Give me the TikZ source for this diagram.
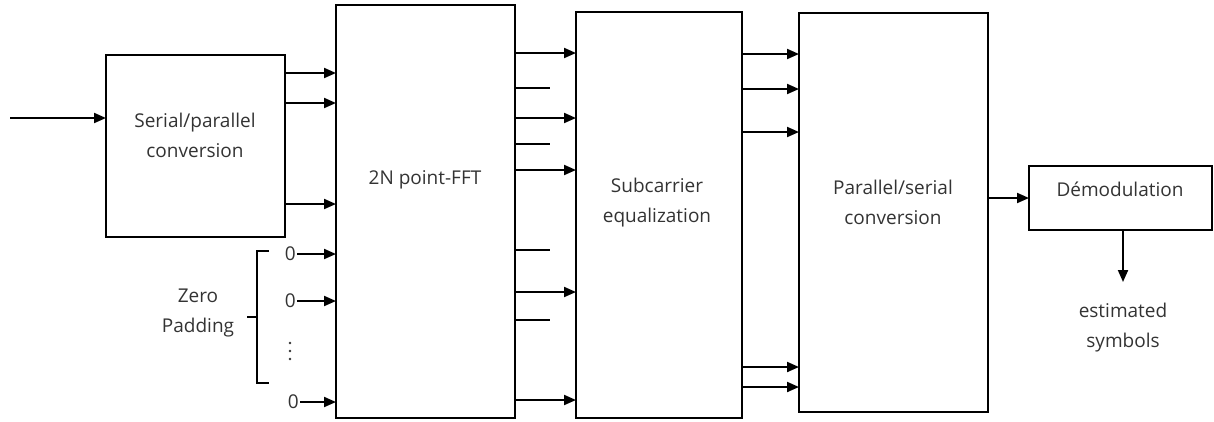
\documentclass[tikz,border=0pt]{standalone}
\usepackage{fontspec}
\setmainfont{Open Sans}
\usetikzlibrary{arrows.meta}
\begin{document}
\begin{tikzpicture}[x=1pt,y=-1pt,
  blk/.style={draw, line width=2pt, inner sep=0pt, outer sep=0pt, anchor=north west},
  lbl/.style={font=\fontsize{19}{30}\selectfont, align=center, text=black!80, inner sep=0pt},
  arr/.style={line width=2pt, -{Triangle[length=12pt,width=10pt]}},
  stub/.style={line width=2pt}]
\useasboundingbox (0,0) rectangle (1214,421);

% processing blocks
\node[blk, minimum width=179pt, minimum height=182pt] (sp)  at (106,55)  {};
\node[blk, minimum width=179pt, minimum height=413pt] (fft) at (336,5)   {};
\node[blk, minimum width=166pt, minimum height=406pt] (sub) at (576,12)  {};
\node[blk, minimum width=189pt, minimum height=399pt] (ps)  at (799,13)  {};
\node[blk, minimum width=183pt, minimum height=64pt]  (dem) at (1029,166) {};

% block captions
\node[lbl] (tsp)  at (195,135) {Serial/parallel\\conversion};
\node[lbl] (tfft) at (425,180) {2N point-FFT};
\node[lbl] (tsub) at (657,203) {Subcarrier\\equalization};
\node[lbl] (tps)  at (893,202) {Parallel/serial\\conversion};
\node[lbl] (tdem) at (1120,189) {Démodulation};
\node[lbl] (tout) at (1123,328) {estimated\\symbols};
\node[lbl] (tzp)  at (198,313) {Zero\\Padding};

% serial input
\coordinate (in) at (10,118);
\draw[arr] (in) -- (sp.west |- in);

% serial/parallel outputs into the FFT
\foreach \y in {73,103,204}
  \draw[arr] (sp.east |- 0,\y) -- (fft.west |- 0,\y);

% zero padding inputs
\node[lbl, anchor=east] (z1) at (296,254) {0};
\node[lbl, anchor=east] (z2) at (296,301) {0};
\node[lbl, anchor=east] (z3) at (299,402) {0};
\foreach \y in {343,351,359}
  \fill[black!80] (290,\y) circle (1.3pt);
\foreach \z in {z1,z2,z3}
  \draw[arr] ([xshift=1pt]\z.east) -- (fft.west |- \z.east);

% bracket grouping the zero inputs
\coordinate (bt) at (269,251);
\coordinate (bb) at (269,383);
\coordinate (bm) at (247,317);
\draw[line width=1.5pt] (bt) -- (257,251) -- (257,383) -- (bb);
\draw[line width=1.5pt] (257,317) -- (bm);

% FFT outputs: kept bins and discarded bins
\foreach \y in {53,118,170,292,400}
  \draw[arr] (fft.east |- 0,\y) -- (sub.west |- 0,\y);
\foreach \y/\n in {88/d1,144/d2,250/d3,320/d4} {
  \coordinate (\n) at (550,\y);
  \draw[stub] (fft.east |- \n) -- (\n);
}

% equalized subcarriers into the parallel/serial converter
\foreach \y in {54,89,132,367,387}
  \draw[arr] (sub.east |- 0,\y) -- (ps.west |- 0,\y);

% serial stream to the demodulator and output
\draw[arr] (ps.east |- 0,198) -- (dem.west |- 0,198);
\coordinate (out) at (1123,282);
\draw[arr] (dem.south -| out) -- (out);
\end{tikzpicture}
\end{document}
